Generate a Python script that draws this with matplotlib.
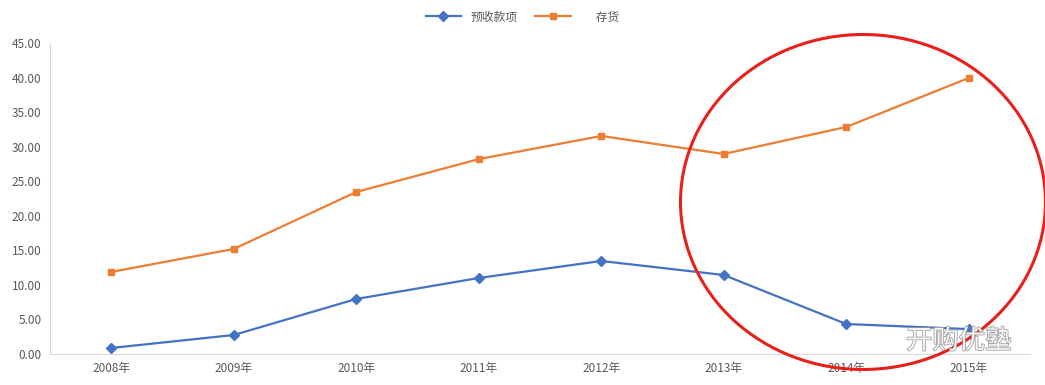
import matplotlib.pyplot as plt
import matplotlib.patheffects as pe
from matplotlib.patches import Ellipse

plt.rcParams['font.family'] = ['Noto Sans CJK SC', 'DejaVu Sans']

years = ['2008年', '2009年', '2010年', '2011年', '2012年', '2013年', '2014年', '2015年']
yushou = [0.87, 2.75, 7.96, 11.0, 13.46, 11.43, 4.34, 3.6]
cunhuo = [11.87, 15.2, 23.44, 28.2, 31.55, 28.94, 32.85, 39.94]

fig = plt.figure(figsize=(10.45, 3.85), dpi=100)
ax = fig.add_axes([50 / 1045, 1 - 354 / 385, 980 / 1045, 311 / 385])

x = range(len(years))
ax.plot(x, yushou, color='#4472C4', lw=1.6, marker='D', ms=5, label='预收款项')
ax.plot(x, cunhuo, color='#ED7D31', lw=1.6, marker='s', ms=5, label='      存货')

ax.set_xlim(-0.5, len(years) - 0.5)
ax.set_ylim(0, 45)
ax.set_yticks(range(0, 46, 5))
ax.set_yticklabels(['%.2f' % v for v in range(0, 46, 5)])
ax.set_xticks(list(x))
ax.set_xticklabels(years)
ax.tick_params(length=0, labelsize=8.5, colors='#595959', pad=6)
for s in ['top', 'right']:
    ax.spines[s].set_visible(False)
ax.spines['left'].set_color('#D9D9D9')
ax.spines['bottom'].set_color('#D9D9D9')

fig.legend(loc='upper center', bbox_to_anchor=(0.5, 1.0), ncol=2, frameon=False,
           fontsize=8.5, labelcolor='#595959', handlelength=3, columnspacing=1.5)

# red circle annotation
circ = Ellipse((863 / 1045, 1 - 202 / 385), 365 / 1045, 335 / 385,
               transform=fig.transFigure, fill=False, edgecolor='#E8201A', lw=2.2)
fig.patches.append(circ)

# watermark
fig.text(906 / 1045, 1 - 341 / 385, '开购优塾', fontsize=19, color='white',
         ha='left', va='center', alpha=0.9,
         path_effects=[pe.withStroke(linewidth=1.2, foreground='#999999')])

fig.savefig('out.png', dpi=100)
